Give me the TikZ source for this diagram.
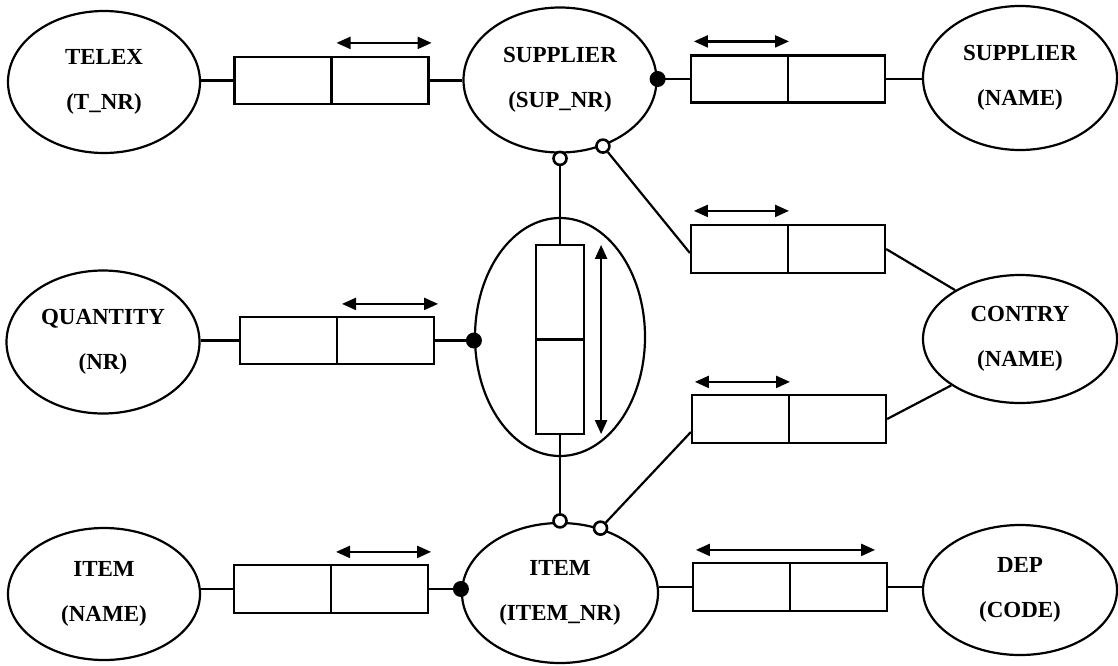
\documentclass[tikz,border=0pt]{standalone}
\usepackage{fontspec}
\setmainfont{Liberation Serif}
\usetikzlibrary{shapes.geometric,arrows.meta,calc}
\begin{document}
\begin{tikzpicture}[x=1pt,y=-1pt,
 ent/.style={draw,ellipse,line width=2.2pt,inner sep=0pt,align=center,font=\fontsize{23}{28}\selectfont\bfseries},
 rel/.style={draw,rectangle,line width=2.2pt,inner sep=0pt,minimum width=194pt,minimum height=47pt},
 conn/.style={line width=2.2pt},
 dbl/.style={line width=2.2pt,{Triangle[length=14pt,width=12pt]}-{Triangle[length=14pt,width=12pt]}},
 fdot/.style={circle,fill,inner sep=0pt,minimum size=16pt},
 odot/.style={circle,draw,fill=white,line width=2.6pt,inner sep=0pt,minimum size=13pt}]
\useasboundingbox (0,0) rectangle (1118,665);

% entities
\node[ent,minimum width=192pt,minimum height=142pt] (telex) at (104,82) {TELEX\\[17pt](T\_NR)};
\node[ent,minimum width=193pt,minimum height=145pt] (sup) at (560,80) {SUPPLIER\\[17pt](SUP\_NR)};
\node[ent,minimum width=194pt,minimum height=144pt] (supn) at (1020,78) {SUPPLIER\\[17pt](NAME)};
\node[ent,minimum width=193pt,minimum height=143pt] (qty) at (103,342) {QUANTITY\\[17pt](NR)};
\node[ent,minimum width=170pt,minimum height=238pt] (big) at (560,337) {};
\node[ent,minimum width=194pt,minimum height=128pt] (contry) at (1020,339) {CONTRY\\[17pt](NAME)};
\node[ent,minimum width=192pt,minimum height=132pt] (itemn) at (104,594) {ITEM\\[17pt](NAME)};
\node[ent,minimum width=196pt,minimum height=140pt] (item) at (560,593) {ITEM\\[17pt](ITEM\_NR)};
\node[ent,minimum width=194pt,minimum height=130pt] (dep) at (1020,590) {DEP\\[17pt](CODE)};

% relation boxes
\node[rel] (b1) at (331.5,80.5) {};
\node[rel] (b2) at (788,79) {};
\node[rel] (bq) at (337,340.5) {};
\node[rel,minimum height=48pt] (b3) at (788,249) {};
\node[rel,minimum height=48pt] (b4) at (789,419) {};
\node[rel,minimum height=48pt] (b5) at (331,589) {};
\node[rel,minimum height=48pt] (b6) at (790,587) {};
\node[rel,minimum width=48pt,minimum height=189pt] (tall) at (560,339.5) {};

\foreach \b in {b1,b2,bq,b3,b4,b5,b6}{\draw[conn] (\b.north) -- (\b.south);}
\draw[conn] (tall.west) -- (tall.east);

% arrows
\draw[dbl] ([xshift=5pt,yshift=13pt]b1.north) -- ([xshift=2pt,yshift=13pt]b1.north east);
\draw[dbl] ([xshift=4pt,yshift=13pt]b2.north west) -- ([xshift=1pt,yshift=13pt]b2.north);
\draw[dbl] ([xshift=5pt,yshift=12pt]bq.north) -- ([xshift=3pt,yshift=12pt]bq.north east);
\draw[dbl] ([xshift=4pt,yshift=13pt]b3.north west) -- ([xshift=1pt,yshift=13pt]b3.north);
\draw[dbl] ([xshift=4pt,yshift=12pt]b4.north west) -- ([xshift=1pt,yshift=12pt]b4.north);
\draw[dbl] ([xshift=5pt,yshift=12pt]b5.north) -- ([xshift=2pt,yshift=12pt]b5.north east);
\draw[dbl] ([xshift=4pt,yshift=12pt]b6.north west) -- ([xshift=-13pt,yshift=12pt]b6.north east);
\draw[dbl] ([xshift=16pt,yshift=-1pt]tall.north east) -- ([xshift=16pt,yshift=1pt]tall.south east);

% connectors
\draw[conn] (b1.west -| telex.east) -- (b1.west);
\draw[conn] (b1.east) -- (b1.east -| sup.west);
\coordinate (dsup) at (b2.west -| sup.east);
\draw[conn] (dsup) -- (b2.west);
\draw[conn] (b2.east) -- (b2.east -| supn.west);
\draw[conn] (bq.west -| qty.east) -- (bq.west);
\coordinate (dbig) at (bq.east -| big.west);
\draw[conn] (bq.east) -- (dbig);
\draw[conn] (b5.west -| itemn.east) -- (b5.west);
\coordinate (ditem) at (b5.east -| item.west);
\draw[conn] (b5.east) -- (ditem);
\draw[conn] (b6.west -| item.east) -- (b6.west);
\draw[conn] (b6.east) -- (b6.east -| dep.west);
\draw[conn] (b3.east) -- (contry.143);
\draw[conn] (b4.east) -- (contry.214);

% open circles
\node[odot,anchor=north] (o1) at ([yshift=3pt]sup.south) {};
\node[odot] (o2) at (sup.-57) {};
\node[odot] (o3) at ([yshift=1pt]item.north) {};
\node[odot] (o4) at (item.58) {};
\draw[conn] (o1) -- (tall.north);
\draw[conn] (o2) -- ([yshift=-4pt]b3.west);
\draw[conn] (tall.south) -- (o3);
\draw[conn] (o4) -- ([yshift=-13pt]b4.west);

% filled dots
\node[fdot] (f1) at (dsup) {};
\node[fdot] (f2) at (dbig) {};
\node[fdot] (f3) at (ditem) {};
\end{tikzpicture}
\end{document}
